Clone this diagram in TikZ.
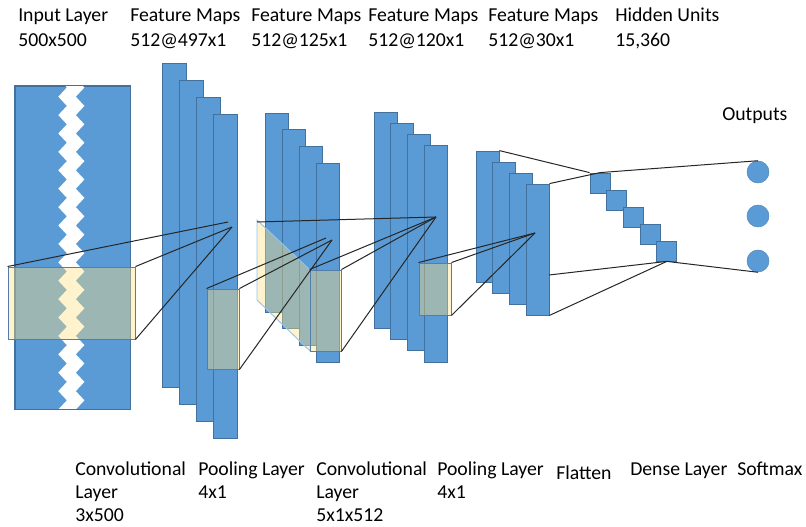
\documentclass[tikz,border=0pt]{standalone}
\usepackage{fontspec}
\setmainfont{Carlito}
\usetikzlibrary{fit}
\definecolor{cnnblue}{HTML}{5B9BD5}
\definecolor{cnnedge}{HTML}{41719C}
\definecolor{cream}{RGB}{255,226,130}
\definecolor{boxedge}{RGB}{85,125,170}
\definecolor{sideedge}{RGB}{150,195,235}
\begin{document}
\begin{tikzpicture}[x=0.75pt,y=-0.75pt,
  fm/.style={draw=cnnedge,fill=cnnblue,line width=0.6pt,inner sep=0pt,rectangle},
  hl/.style={draw=boxedge,fill=cream,fill opacity=0.4,line width=0.7pt,inner sep=0pt,rectangle},
  conn/.style={draw=black!85,line width=0.75pt},
  lbl/.style={anchor=base west,inner sep=0pt,font=\fontsize{14.8}{18}\selectfont}]
\useasboundingbox (0,0) rectangle (806,527);

% ---------- input layer ----------
\node[fm,fit={(15,86) (130,409)}] (inp) {};
\begin{scope}
  \clip (15,86) rectangle (130,409);
  \fill[white] (58.3,78.3)
    \foreach \i in {0,...,37}{ -- ({58.3+8.6*isodd(\i)},{78.3+9.2*\i}) }
    -- ({75.8+8.6*isodd(37)},{78.3+9.2*37})
    \foreach \i in {37,...,0}{ -- ({75.8+8.6*isodd(\i)},{78.3+9.2*\i}) } -- cycle;
\end{scope}
\draw[cnnedge,line width=0.6pt] (inp.north west) rectangle (inp.south east);
\node[hl,fit={(8,267) (135,339)}] (inbox) {};

% ---------- feature maps 1 ----------
\foreach \k in {0,...,3}{
  \node[fm,fit={({162+17*\k},{63+17*\k}) ({186+17*\k},{387+17*\k})}] (fa\k) {};
}
\node[hl,fit={(207,289) (239,369)}] (pool1) {};

% ---------- feature maps 2 ----------
\foreach \k in {0,...,3}{
  \node[fm,fit={({265+17*\k},{113+16.7*\k}) ({288+17*\k},{312+16.7*\k})}] (fb\k) {};
}
\coordinate (cbk) at (257,220);
\coordinate (cbb) at (257,300);
\filldraw[draw=sideedge,fill=cream,fill opacity=0.4,line width=0.7pt]
  (cbk) -- (310,270) -- (310,351) -- (cbb) -- cycle;
\node[hl,fit={(310,270) (341,351)}] (conv2) {};

% ---------- feature maps 3 ----------
\foreach \k in {0,...,3}{
  \node[fm,fit={({374+16.7*\k},{112+11.3*\k}) ({397+16.7*\k},{328+11.3*\k})}] (fc\k) {};
}
\node[hl,fit={(419,263) (451,315)}] (pool2) {};

% ---------- feature maps 4 ----------
\foreach \k in {0,...,3}{
  \node[fm,fit={({476+16.7*\k},{151+11*\k}) ({499+16.7*\k},{282+11*\k})}] (fd\k) {};
}

% ---------- flatten ----------
\foreach \k in {1,...,5}{
  \node[fm,fit={({590+16.7*(\k-1)},{173+17*(\k-1)}) ({610+16.7*(\k-1)},{193+17*(\k-1)})}] (sq\k) {};
}

% ---------- outputs ----------
\foreach \k/\y in {1/172,2/216,3/261}{
  \node[circle,fill=cnnblue,draw=cnnblue!90!black,line width=0.4pt,inner sep=0pt,minimum size=16.5pt] (out\k) at (758,\y) {};
}

% ---------- convergence points ----------
\coordinate (c1a) at (228,222);
\coordinate (c1b) at (232,227);
\coordinate (c2a) at (326,238);
\coordinate (c2b) at (332,240);
\coordinate (c3) at (436,217);
\coordinate (c4) at (535,233);
\coordinate (fdr) at (549,275);

% ---------- connectors ----------
\draw[conn] (inbox.north west) -- (c1a);
\draw[conn] (inbox.north east) -- (c1b);
\draw[conn] (inbox.south east) -- (c1b);
\draw[conn] (pool1.north west) -- (c2a);
\draw[conn] (pool1.north east) -- (c2b);
\draw[conn] (pool1.south east) -- (c2b);
\draw[conn] ([yshift=-1.5pt]cbk) -- (c3);
\draw[conn] (conv2.north west) -- (c3);
\draw[conn] (conv2.north east) -- (c3);
\draw[conn] (conv2.south east) -- (c3);
\draw[conn] (pool2.north west) -- (c4);
\draw[conn] (pool2.north east) -- (c4);
\draw[conn] (pool2.south east) -- (c4);
\draw[conn] (fd0.north east) -- (sq1.north west);
\draw[conn] (fd3.north east) -- (sq1.north);
\draw[conn] (fdr) -- (sq5.south);
\draw[conn] (fd3.south east) -- (sq5.south);
\draw[conn] (sq1.north) -- (out1.north);
\draw[conn] (sq5.south) -- (out3.south);

% ---------- labels ----------
\node[lbl] (t1a) at (18,22) {Input Layer};
\node[lbl] (t1b) at (18,47) {500x500};
\node[lbl] (t2a) at (130,22) {Feature Maps};
\node[lbl] (t2b) at (130,47) {512@497x1};
\node[lbl] (t3a) at (251,22) {Feature Maps};
\node[lbl] (t3b) at (251,47) {512@125x1};
\node[lbl] (t4a) at (368,22) {Feature Maps};
\node[lbl] (t4b) at (368,47) {512@120x1};
\node[lbl] (t5a) at (488,22) {Feature Maps};
\node[lbl] (t5b) at (488,47) {512@30x1};
\node[lbl] (t6a) at (615,22) {Hidden Units};
\node[lbl] (t6b) at (615,47) {15,360};
\node[lbl] (tout) at (722,121) {Outputs};

\node[lbl] (b1a) at (75,475) {Convolutional};
\node[lbl] (b1b) at (75,498) {Layer};
\node[lbl] (b1c) at (75,521) {3x500};
\node[lbl] (b2a) at (198,475) {Pooling Layer};
\node[lbl] (b2b) at (198,498) {4x1};
\node[lbl] (b3a) at (316,475) {Convolutional};
\node[lbl] (b3b) at (316,498) {Layer};
\node[lbl] (b3c) at (316,521) {5x1x512};
\node[lbl] (b4a) at (437,475) {Pooling Layer};
\node[lbl] (b4b) at (437,498) {4x1};
\node[lbl] (b5) at (556,479) {Flatten};
\node[lbl] (b6) at (630,475) {Dense Layer};
\node[lbl] (b7) at (737,475) {Softmax};
\end{tikzpicture}
\end{document}
